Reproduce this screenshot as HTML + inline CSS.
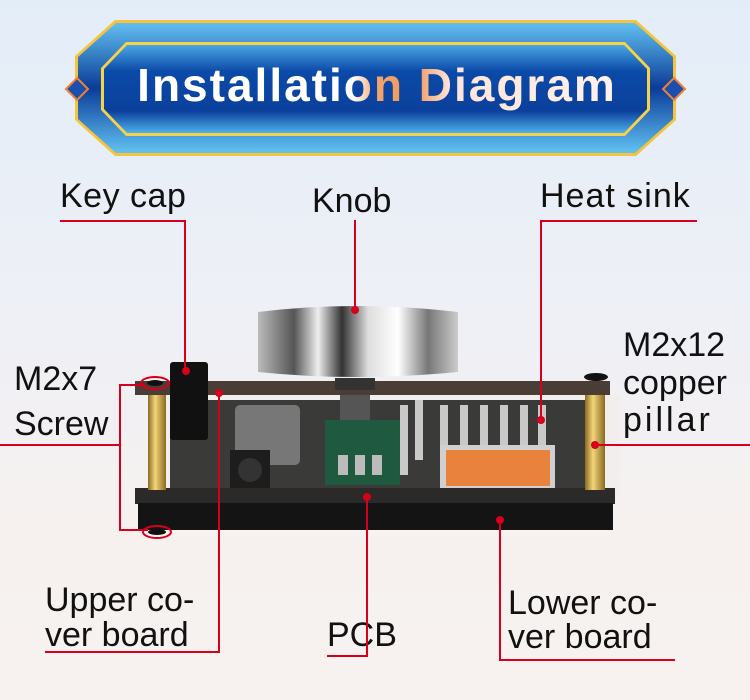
<!DOCTYPE html>
<html><head><meta charset="utf-8"><style>
html,body{margin:0;padding:0;width:750px;height:700px;overflow:hidden}
body{background:linear-gradient(#e3edf8 0%,#eef0f6 45%,#f6f1ef 75%,#f7f2ef 100%)}
svg{display:block}
text{font-family:"Liberation Sans",sans-serif}
</style></head><body>
<svg width="750" height="700" viewBox="0 0 750 700" xmlns="http://www.w3.org/2000/svg">
<defs>
<linearGradient id="bo" x1="0" y1="0" x2="0" y2="1"><stop offset="0" stop-color="#62bff0"/><stop offset="0.5" stop-color="#0a3c98"/><stop offset="1" stop-color="#62c2f2"/></linearGradient>
<linearGradient id="bi" x1="0" y1="0" x2="0" y2="1"><stop offset="0" stop-color="#4aa6e4"/><stop offset="0.3" stop-color="#0b4aa8"/><stop offset="0.75" stop-color="#0b409c"/><stop offset="1" stop-color="#4fb0ec"/></linearGradient>
<linearGradient id="knob" x1="0" y1="0" x2="1" y2="0"><stop offset="0" stop-color="#bbb"/><stop offset="0.18" stop-color="#555"/><stop offset="0.3" stop-color="#eee"/><stop offset="0.42" stop-color="#333"/><stop offset="0.55" stop-color="#ddd"/><stop offset="0.7" stop-color="#fff"/><stop offset="0.85" stop-color="#777"/><stop offset="1" stop-color="#ccc"/></linearGradient>
<linearGradient id="gold" x1="0" y1="0" x2="1" y2="0"><stop offset="0" stop-color="#8a6a20"/><stop offset="0.4" stop-color="#f3d57a"/><stop offset="1" stop-color="#8a6a20"/></linearGradient>
<linearGradient id="tg" x1="0" y1="0" x2="1" y2="0"><stop offset="0" stop-color="#fff"/><stop offset="0.45" stop-color="#fff"/><stop offset="0.5" stop-color="#f3a46a"/><stop offset="0.58" stop-color="#f0955a"/><stop offset="0.65" stop-color="#fde4d8"/><stop offset="1" stop-color="#fff2ee"/></linearGradient>
</defs>
<!-- banner -->
<polygon points="115,20 636,20 676,56 676,120 636,156 115,156 75,120 75,56" fill="#f5c43a"/>
<polygon points="116,23 635,23 673,57 673,119 635,153 116,153 78,119 78,57" fill="url(#bo)"/>
<polygon points="126,42 625,42 650,68 650,110 625,136 126,136 101,110 101,68" fill="#f6d24a"/>
<polygon points="127,45 624,45 647,69 647,109 624,133 127,133 104,109 104,69" fill="url(#bi)"/>
<polygon points="77,78 88,89 77,100 66,89" fill="#1a4fb0" stroke="#f28030" stroke-width="2"/>
<polygon points="674,78 685,89 674,100 663,89" fill="#1a4fb0" stroke="#f28030" stroke-width="2"/>
<text x="377" y="101" font-size="46" font-weight="bold" text-anchor="middle" fill="url(#tg)" letter-spacing="2">Installation Diagram</text>

<!-- device -->
<rect x="160" y="395" width="460" height="100" fill="#f2eeee"/>
<rect x="170" y="400" width="420" height="90" fill="#3a3a38"/>
<rect x="235" y="405" width="65" height="60" rx="5" fill="#777"/>
<rect x="230" y="450" width="40" height="40" fill="#1d1d1d"/>
<circle cx="250" cy="470" r="12" fill="#333"/>
<rect x="325" y="420" width="75" height="65" fill="#1f5a40"/>
<rect x="338" y="455" width="10" height="20" fill="#bbb"/><rect x="355" y="455" width="10" height="20" fill="#bbb"/><rect x="372" y="455" width="10" height="20" fill="#bbb"/>
<rect x="340" y="395" width="30" height="25" fill="#555"/>
<g fill="#c9c9c9"><rect x="400" y="405" width="8" height="70"/><rect x="415" y="400" width="8" height="60"/><rect x="440" y="405" width="8" height="60"/><rect x="460" y="405" width="8" height="60"/><rect x="480" y="405" width="8" height="60"/><rect x="500" y="405" width="8" height="60"/><rect x="520" y="405" width="8" height="60"/><rect x="538" y="405" width="8" height="60"/></g>
<rect x="440" y="445" width="115" height="45" fill="#d0d0d0"/>
<rect x="446" y="450" width="104" height="36" fill="#e8823c"/>
<rect x="135" y="488" width="480" height="16" fill="#2b2a28"/>
<rect x="138" y="503" width="475" height="27" fill="#141414"/>
<rect x="148" y="395" width="18" height="95" fill="url(#gold)"/>
<rect x="585" y="395" width="20" height="95" fill="url(#gold)"/>
<rect x="135" y="381" width="475" height="14" fill="#4a3d35"/>
<rect x="170" y="362" width="38" height="78" rx="3" fill="#111"/>
<rect x="335" y="378" width="40" height="12" fill="#333"/>
<path d="M258,312 Q355,300 458,312 L458,372 Q355,382 258,372 Z" fill="url(#knob)"/>
<ellipse cx="596" cy="377" rx="12" ry="4" fill="#111"/>
<ellipse cx="155" cy="383" rx="8" ry="3" fill="#111"/>
<ellipse cx="157" cy="532" rx="9" ry="3" fill="#111"/>

<!-- labels -->
<g font-size="34" fill="#111">
<text x="60" y="207" letter-spacing="0.5">Key cap</text>
<text x="312" y="212">Knob</text>
<text x="540" y="207" letter-spacing="1">Heat sink</text>
<text x="14" y="390">M2x7</text>
<text x="14" y="435">Screw</text>
<text x="623" y="356">M2x12</text>
<text x="623" y="394">copper</text>
<text x="623" y="431" letter-spacing="3">pillar</text>
<text x="45" y="611">Upper co-</text>
<text x="45" y="646">ver board</text>
<text x="327" y="646">PCB</text>
<text x="508" y="614">Lower co-</text>
<text x="508" y="648">ver board</text>
</g>
<g stroke="#d6001c" stroke-width="2" fill="none">
<polyline points="60,221 185,221 185,370"/>
<line x1="355" y1="220" x2="355" y2="310"/>
<polyline points="697,221 541,221 541,420"/>
<polyline points="145,385 120,385 120,530 148,530"/>
<line x1="0" y1="445" x2="120" y2="445"/>
<line x1="595" y1="445" x2="750" y2="445"/>
<polyline points="219,393 219,652 45,652"/>
<polyline points="367,497 367,656 327,656"/>
<polyline points="500,520 500,660 675,660"/>
<ellipse cx="155" cy="383" rx="14" ry="6"/>
<ellipse cx="157" cy="532" rx="14" ry="6"/>
</g>
<g fill="#d6001c">
<circle cx="186" cy="371" r="4"/><circle cx="355" cy="310" r="4"/><circle cx="541" cy="420" r="4"/>
<circle cx="595" cy="445" r="4"/><circle cx="219" cy="393" r="4"/><circle cx="367" cy="497" r="4"/><circle cx="500" cy="520" r="4"/>
</g>
</svg>
</body></html>
